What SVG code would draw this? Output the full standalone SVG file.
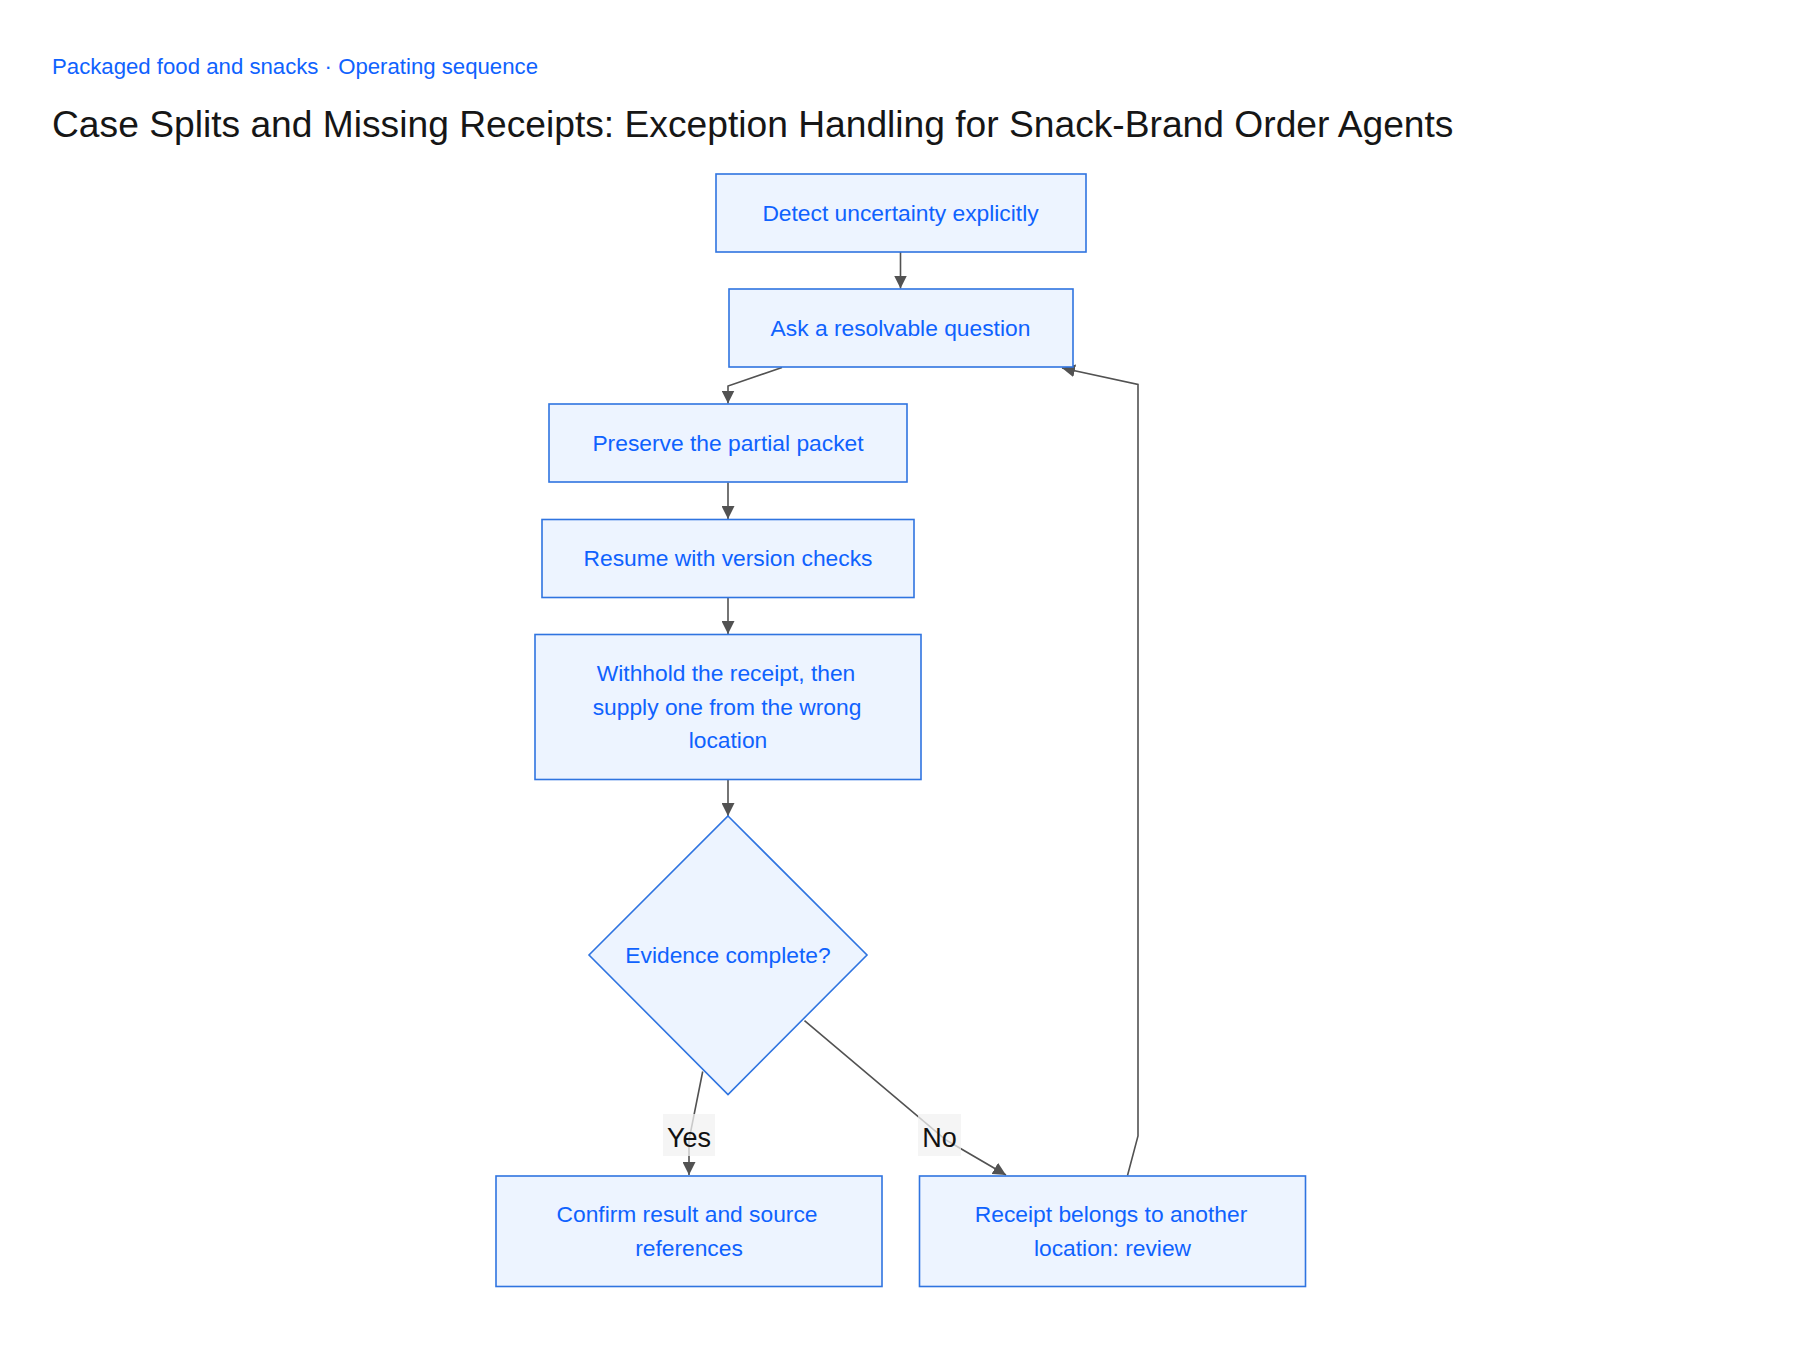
<svg xmlns="http://www.w3.org/2000/svg" width="1800" height="1350" viewBox="0 0 1800 1350">
<defs>
<style>
.node rect, .node polygon { fill: #edf4ff; stroke: #2f74e0; stroke-width: 1.6; }
.node text { font-family: "Liberation Sans", Arial, sans-serif; font-size: 22.8px; fill: #0f62fe; text-anchor: middle; }
.edge { fill: none; stroke: #525252; stroke-width: 1.6; marker-end: url(#arrow); }
.lbl rect { fill: #f2f2f2; fill-opacity: 0.75; }
.lbl text { font-family: "Liberation Sans", Arial, sans-serif; font-size: 27px; fill: #111111; text-anchor: middle; }
</style>
<marker id="arrow" viewBox="0 0 12 12" refX="12" refY="6" markerWidth="13" markerHeight="13" markerUnits="userSpaceOnUse" orient="auto">
<path d="M0,0 L12,6 L0,12 z" fill="#525252"/>
</marker>
</defs>
<rect x="0" y="0" width="1800" height="1350" fill="#ffffff"/>
<text x="52" y="74" font-family="'Liberation Sans', Arial, sans-serif" font-size="22.2" fill="#0f62fe">Packaged food and snacks · Operating sequence</text>
<text x="52" y="137" font-family="'Liberation Sans', Arial, sans-serif" font-size="37.2" fill="#161616">Case Splits and Missing Receipts: Exception Handling for Snack-Brand Order Agents</text>

<g id="connectors">
<polyline class="edge" points="900.5,252 900.5,288.5"/>
<polyline class="edge" points="782,367.5 728,386 728,403.5"/>
<polyline class="edge" points="728,482.5 728,519"/>
<polyline class="edge" points="728,597.5 728,634"/>
<polyline class="edge" points="728,779.5 728,816"/>
<polyline class="edge" points="702.7,1071.5 689,1140 689,1175"/>
<polyline class="edge" points="804.5,1020.7 946,1140 1006,1175"/>
<polyline class="edge" points="1127.5,1175.5 1138,1136 1138,384.5 1062,368"/>
</g>

<g id="label-yes" class="lbl">
<rect x="663" y="1114" width="52" height="42"/>
<text x="689" y="1146.5">Yes</text>
</g>
<g id="label-no" class="lbl">
<rect x="918" y="1114" width="43" height="42"/>
<text x="939.5" y="1146.5">No</text>
</g>

<g id="node-detect" class="node">
<rect x="716" y="174" width="370" height="78"/>
<text x="900.5" y="220.5">Detect uncertainty explicitly</text>
</g>
<g id="node-ask" class="node">
<rect x="729" y="289" width="344" height="78"/>
<text x="900.5" y="335.5">Ask a resolvable question</text>
</g>
<g id="node-preserve" class="node">
<rect x="549" y="404" width="358" height="78"/>
<text x="728" y="450.5">Preserve the partial packet</text>
</g>
<g id="node-resume" class="node">
<rect x="542" y="519.5" width="372" height="78"/>
<text x="728" y="566">Resume with version checks</text>
</g>
<g id="node-withhold" class="node">
<rect x="535" y="634.5" width="386" height="145"/>
<text x="726" y="681">Withhold the receipt, then</text>
<text x="727" y="714.5">supply one from the wrong</text>
<text x="728" y="747.5">location</text>
</g>
<g id="node-evidence" class="node">
<polygon points="728,816 867,955 728,1094.5 589,955"/>
<text x="728" y="962.5">Evidence complete?</text>
</g>
<g id="node-confirm" class="node">
<rect x="496" y="1176" width="386" height="110.5"/>
<text x="687" y="1221.5">Confirm result and source</text>
<text x="689" y="1255.5">references</text>
</g>
<g id="node-receipt" class="node">
<rect x="919.5" y="1176" width="386" height="110.5"/>
<text x="1111" y="1221.5">Receipt belongs to another</text>
<text x="1112.5" y="1255.5">location: review</text>
</g>
</svg>
